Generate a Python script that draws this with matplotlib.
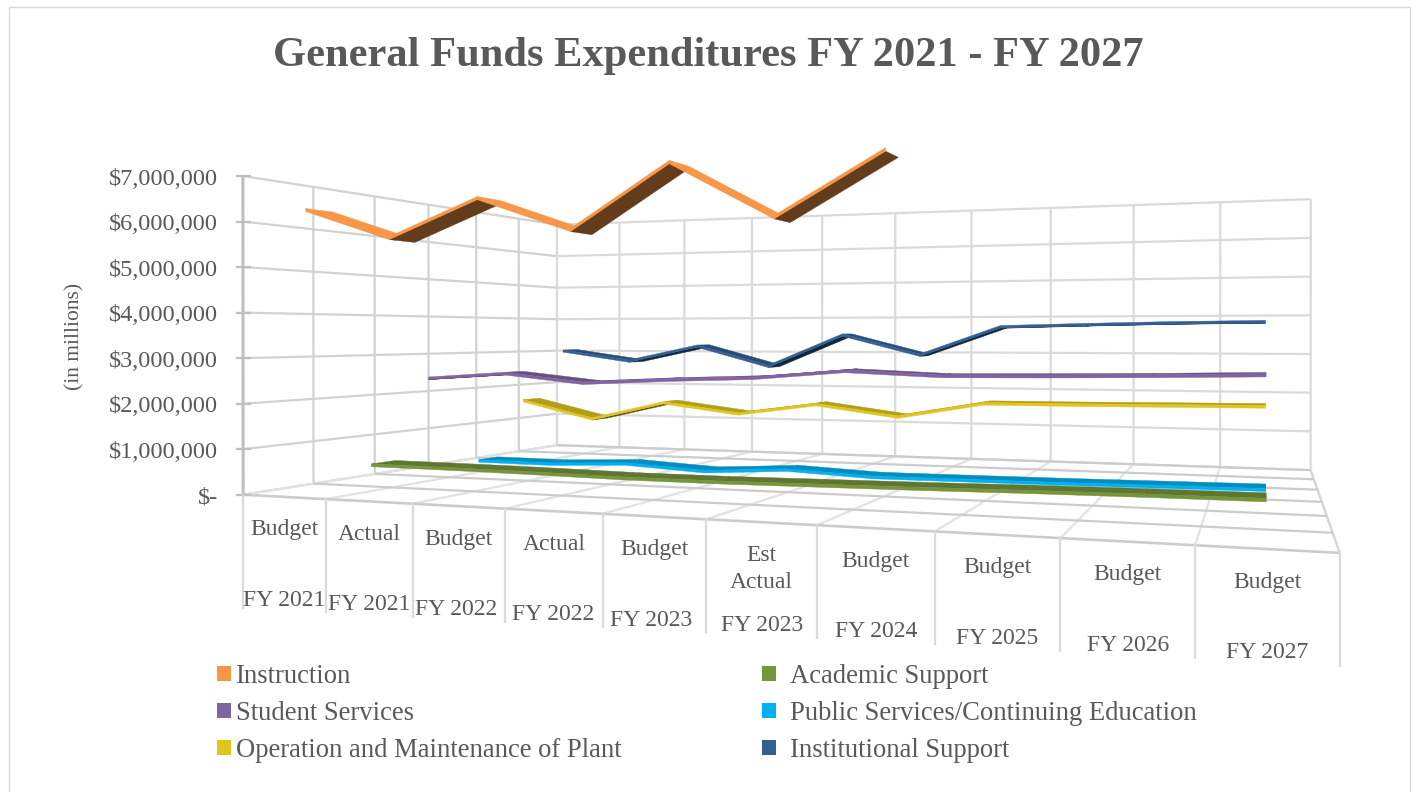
import numpy as np
import matplotlib
matplotlib.use('Agg')
import matplotlib.pyplot as plt
from matplotlib.lines import Line2D
from matplotlib.patches import Patch, Rectangle
from matplotlib.transforms import Affine2D
from mpl_toolkits.mplot3d.art3d import Poly3DCollection
from matplotlib.colors import to_rgb

plt.rcParams['font.family'] = ['Liberation Serif', 'DejaVu Serif']

# ---------- data ----------
title = 'General Funds Expenditures FY 2021 - FY 2027'
kinds = ['Budget', 'Actual', 'Budget', 'Actual', 'Budget', 'Est\nActual', 'Budget', 'Budget', 'Budget', 'Budget']
years = ['FY 2021', 'FY 2021', 'FY 2022', 'FY 2022', 'FY 2023', 'FY 2023', 'FY 2024', 'FY 2025', 'FY 2026', 'FY 2027']
z_ticks = [0, 1e6, 2e6, 3e6, 4e6, 5e6, 6e6, 7e6]
z_labels = ['$-', '$1,000,000', '$2,000,000', '$3,000,000', '$4,000,000', '$5,000,000', '$6,000,000', '$7,000,000']
instruction = [6.32e6, 5.64e6, 6.42e6, 5.69e6, 6.97e6, 5.81e6, 7.00e6, 7.2e6, 7.3e6, 7.4e6]
academic = [0.45e6, 0.44e6, 0.42e6, 0.39e6, 0.39e6, 0.41e6, 0.43e6, 0.46e6, 0.48e6, 0.49e6]
student = [2.45e6, 2.59e6, 2.38e6, 2.48e6, 2.55e6, 2.73e6, 2.64e6, 2.66e6, 2.69e6, 2.73e6]
public = [0.14e6, 0.13e6, 0.21e6, 0.09e6, 0.21e6, 0.11e6, 0.12e6, 0.13e6, 0.15e6, 0.17e6]
operation = [1.66e6, 1.19e6, 1.68e6, 1.42e6, 1.71e6, 1.43e6, 1.81e6, 1.82e6, 1.84e6, 1.86e6]
institutional = [3.06e6, 2.77e6, 3.22e6, 2.65e6, 3.54e6, 2.99e6, 3.76e6, 3.81e6, 3.85e6, 3.87e6]
legend_left = ['Instruction', 'Student Services', 'Operation and Maintenance of Plant']
legend_right = ['Academic Support', 'Public Services/Continuing Education', 'Institutional Support']
colors_left = ['#F79646', '#8064A2', '#E0C51E']
colors_right = ['#77933C', '#00B0F0', '#335F94']

# series front to back along the depth axis
depth_series = [(instruction, '#F79646'), (academic, '#77933C'), (student, '#8064A2'),
                (public, '#00B0F0'), (operation, '#E0C51E'), (institutional, '#335F94')]

ZMAX = 7e6
N = len(kinds)
D = len(depth_series)
GREY = '#595959'

# camera calibrated on the reference's box (data -> pixels)
P = np.array([[73.69620411, 93.59600730, -0.05184287e-6, 243.14117323],
              [-9.02350045, 24.74875690, -45.54201255e-6, 494.71350832],
              [-0.02684573, 0.07413138, -7.0172e-11, 1.0]])
M = np.vstack([P[0], P[1], [0, 1, 0, 0], P[2]])


def proj(x, y, z):
    h = P @ np.array([x, y, z, 1.0])
    return h[0] / h[2], h[1] / h[2]


fig = plt.figure(figsize=(14.17, 7.92), dpi=100, facecolor='white')
tp = Affine2D().scale(1 / 1417, -1 / 792).translate(0, 1) + fig.transFigure

fig.add_artist(Rectangle((8.5, 6.5), 1401.5, 800, transform=tp, fill=False, edgecolor='#D9D9D9', lw=1.0))

ax = fig.add_subplot(111, projection='3d')
ax.set_position([0, 0, 1, 1])
ax.apply_aspect = lambda position=None: None
ax.set_axis_off()
ax.patch.set_visible(False)
ax.computed_zorder = False
ax.set_autoscale_on(False)
ax._focal_length = np.inf


def get_proj():
    ax._viewLim.intervalx = (0, 1417)
    ax._viewLim.intervaly = (792, 0)
    return M


ax.get_proj = get_proj
ax._viewLim.intervalx = (0, 1417)
ax._viewLim.intervaly = (792, 0)

WALL = '#DADADA'
DARK = '#BFBFBF'


def seg(x, y, z, c=WALL, lw=1.6, zo=1):
    ax.plot(x, y, z, color=c, lw=lw, zorder=zo, solid_capstyle='butt')


# back wall and side wall
for v in z_ticks:
    seg([0, N], [D, D], [v, v])
    seg([0, 0], [0, D], [v, v], c='#D2D2D2')
for i in range(N + 1):
    seg([i, i], [D, D], [0, ZMAX])
for j in range(1, D):
    seg([0, 0], [j, j], [0, ZMAX], c='#D2D2D2')
# floor
for j in range(D + 1):
    seg([0, N], [j, j], [0, 0], c='#CCCCCC', lw=1.6 if j else 1.9, zo=2)
for i in range(N + 1):
    seg([i, i], [0, D], [0, 0], c='#E2E2E2', zo=1.5)
seg([N, N], [0, D], [0, 0], c='#D6D6D6', zo=1.5)
seg([0, 0], [0, 0], [0, ZMAX], c=DARK, lw=2.2, zo=3)

# ribbons
GAP_A, GAP_B = 0.3, 0.7
THICK = 0.065e6


def shade(c, f):
    return tuple(np.array(to_rgb(c)) * f)


def area(q):
    p = np.array([proj(*v) for v in q])
    x, y = p[:, 0], p[:, 1]
    return 0.5 * np.sum(x * np.roll(y, -1) - np.roll(x, -1) * y)


zo = 10
for j in range(D - 1, -1, -1):
    vals, col = depth_series[j]
    a, b = j + GAP_A, j + GAP_B
    for k in range(N - 1):
        z0, z1 = vals[k], vals[k + 1]
        if max(z0, z1) > ZMAX:
            continue
        x0, x1 = k + 0.5, k + 1.5
        top = [(x0, a, z0), (x1, a, z1), (x1, b, z1), (x0, b, z0)]
        if area(top) > 0 and z1 > z0:
            face = [(x0, a, z0 - THICK), (x1, a, z1 - THICK), (x1, b, z1 - THICK), (x0, b, z0 - THICK)]
            fc = shade(col, 0.4)
        else:
            face = top
            fc = shade(col, 1.0 if z0 > 5e6 else 0.8)
        pc = Poly3DCollection([face], facecolors=[fc], edgecolors=[fc], linewidths=0.3, zorder=zo)
        ax.add_collection3d(pc, autolim=False)
        front = [(x0, a, z0), (x1, a, z1), (x1, a, z1 - THICK), (x0, a, z0 - THICK)]
        pf = Poly3DCollection([front], facecolors=[col], edgecolors=[col], linewidths=0.3, zorder=zo + 1)
        ax.add_collection3d(pf, autolim=False)
    zo += 2

ax.set_xlim(0, N)
ax.set_ylim(0, D)
ax.set_zlim(0, ZMAX)

# vertical axis ticks and labels
for v, lab in zip(z_ticks, z_labels):
    px, py = proj(0, 0, v)
    fig.add_artist(Line2D([px - 6, px + 7], [py, py], transform=tp, color=DARK, lw=1.6))
    fig.text(218, py + 3, lab, transform=tp, ha='right', va='center', fontsize=17.6, color=GREY)

# category axis: dividers and two label levels
year_nudge = [0, 0, -3, -1, -3, 0, 0, 0, 0, 0]
for i in range(N + 1):
    px, py = proj(i, 0, 0)
    fig.add_artist(Line2D([px, px], [py, py + 113], transform=tp, color='#DADADA', lw=1.6))
for i in range(N):
    pa = proj(i, 0, 0)
    pb = proj(i + 1, 0, 0)
    cx, cy = (pa[0] + pb[0]) / 2, (pa[1] + pb[1]) / 2
    if '\n' in kinds[i]:
        l1, l2 = kinds[i].split('\n')
        fig.text(cx, cy + 33, l1, transform=tp, ha='center', va='center', fontsize=17, color=GREY)
        fig.text(cx, cy + 60, l2, transform=tp, ha='center', va='center', fontsize=17, color=GREY)
    else:
        fig.text(cx, cy + 33, kinds[i], transform=tp, ha='center', va='center', fontsize=17, color=GREY)
    fig.text(cx + year_nudge[i], cy + 103.5, years[i], transform=tp, ha='center', va='center', fontsize=17, color=GREY)

fig.text(708, 56, title, transform=tp, ha='center', va='center', fontsize=30.6, fontweight='bold', color=GREY)
fig.text(75, 336, '(in millions)', transform=tp, ha='center', va='center', rotation=90, fontsize=15.5, color=GREY)

common = dict(ncol=1, loc='upper left', frameon=False, fontsize=19.2, labelcolor=GREY, handlelength=0.52,
              handleheight=0.52, labelspacing=0.45, borderpad=0, borderaxespad=0)
h_left = [Patch(facecolor=c, edgecolor='none') for c in colors_left]
h_right = [Patch(facecolor=c, edgecolor='none') for c in colors_right]
fig.legend(h_left, legend_left, bbox_to_anchor=(217 / 1417, 1 - 664 / 792), handletextpad=0.2, **common)
fig.legend(h_right, legend_right, bbox_to_anchor=(762 / 1417, 1 - 664 / 792), handletextpad=0.53, **common)

fig.savefig('out.png', dpi=100)
